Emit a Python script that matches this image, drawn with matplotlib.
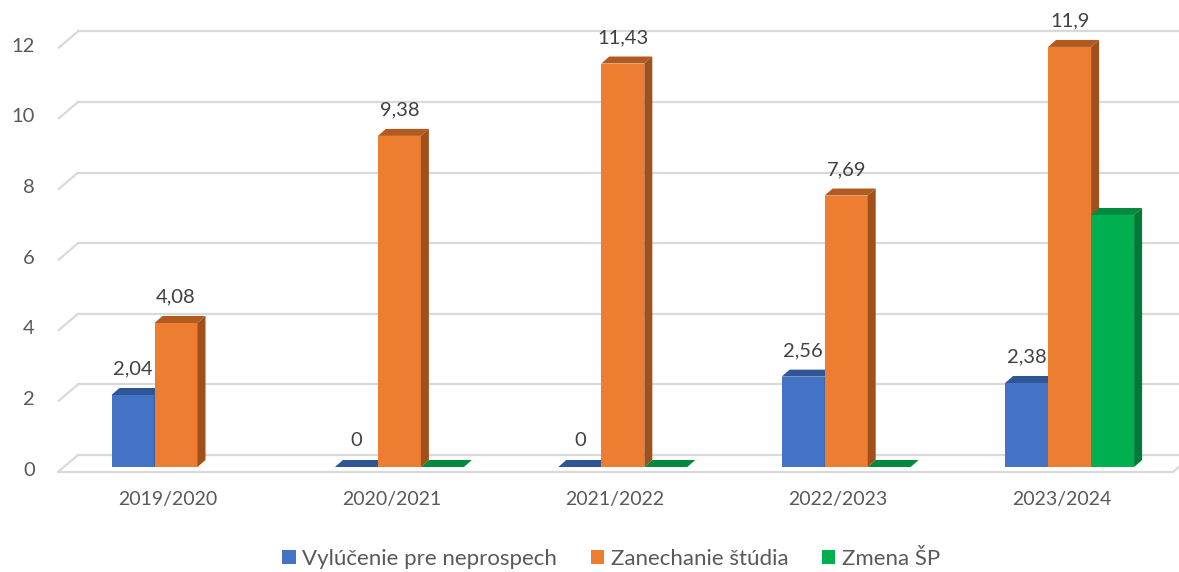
import matplotlib
matplotlib.use('Agg')
import matplotlib.pyplot as plt
from matplotlib.patches import Polygon, Patch

categories = ['2019/2020', '2020/2021', '2021/2022', '2022/2023', '2023/2024']
vylucenie = [2.04, 0, 0, 2.56, 2.38]
zanechanie = [4.08, 9.38, 11.43, 7.69, 11.9]
zmena = [None, 0, 0, 0, 7.14]
series_names = ['Vylúčenie pre neprospech', 'Zanechanie štúdia', 'Zmena ŠP']
y_ticks = [0, 2, 4, 6, 8, 10, 12]

series = [vylucenie, zanechanie, zmena]
front_colors = ['#4472C4', '#ED7D31', '#00B050']
top_colors = ['#2F5597', '#B35A1E', '#008A3E']
side_colors = ['#2A4E8C', '#A0501B', '#007A36']
show_labels = [True, True, False]

plt.rcParams['font.family'] = ['Lato', 'DejaVu Sans']

W, H = 1179, 572
fig = plt.figure(figsize=(W / 100, H / 100), dpi=100)
ax = fig.add_axes([0, 0, 1, 1])
PX_X = 223.4   # pixels per category
PX_Y = 35.3    # pixels per value unit
X0, Y0 = 176, 105
ax.set_xlim(-X0 / PX_X, (W - X0) / PX_X)
ax.set_ylim(-Y0 / PX_Y, (H - Y0) / PX_Y)
ax.axis('off')


def dx(p):
    return p / PX_X


def dy(p):
    return p / PX_Y


grid_c = '#D9D9D9'
glw = 1.6
front_left = dx(58 - X0)
back_left = dx(78 - X0)
front_right = dx(1173 - X0)
back_right = dx(1200 - X0)
fy = -dy(5)
by = dy(12)
for v in y_ticks:
    ax.plot([front_left, back_left], [v + fy, v + by], color=grid_c, lw=glw, zorder=1, solid_capstyle='butt')
    ax.plot([back_left, back_right], [v + by, v + by], color=grid_c, lw=glw, zorder=1)
    ax.text(dx(35 - X0), v - dy(3), str(v), ha='right', va='center', fontsize=14.5, color='#595959')
ax.plot([front_left, front_right, front_right + dx(20)], [fy, fy, by], color=grid_c, lw=glw, zorder=1)

# 3D-looking bars
w = dx(43)
ddx = dx(8)
ddy = dy(7)
for j, vals in enumerate(series):
    for i, v in enumerate(vals):
        if v is None:
            continue
        xc = i + (j - 1) * w
        xl = xc - w / 2
        z = 3 + j
        ax.bar(xc, v, width=w, color=front_colors[j], zorder=z, linewidth=0)
        ax.add_patch(Polygon([(xl, v), (xl + w, v), (xl + w + ddx, v + ddy), (xl + ddx, v + ddy)],
                             closed=True, facecolor=top_colors[j], edgecolor='none', zorder=z))
        if v > 0:
            ax.add_patch(Polygon([(xl + w, 0), (xl + w + ddx, ddy), (xl + w + ddx, v + ddy), (xl + w, v)],
                                 closed=True, facecolor=side_colors[j], edgecolor='none', zorder=z))
        if show_labels[j]:
            lab = ('%g' % v).replace('.', ',')
            ax.annotate(lab, (xc, v), xytext=(0, 26), textcoords='offset pixels',
                        ha='center', va='center', fontsize=14.5, color='#404040', zorder=10)

for i, c in enumerate(categories):
    ax.text(i - dx(8), dy(72 - Y0), c, ha='center', va='center', fontsize=14, color='#595959')

handles = [Patch(facecolor=front_colors[j], label=series_names[j]) for j in range(3)]
fig.legend(handles=handles, loc='center', bbox_to_anchor=(611 / W, 13 / H), ncol=3, frameon=False,
           fontsize=16, handlelength=0.6, handleheight=0.6, handletextpad=0.3, columnspacing=1.5,
           labelcolor='#595959', borderpad=0.0)

fig.savefig('out.png', dpi=100)
